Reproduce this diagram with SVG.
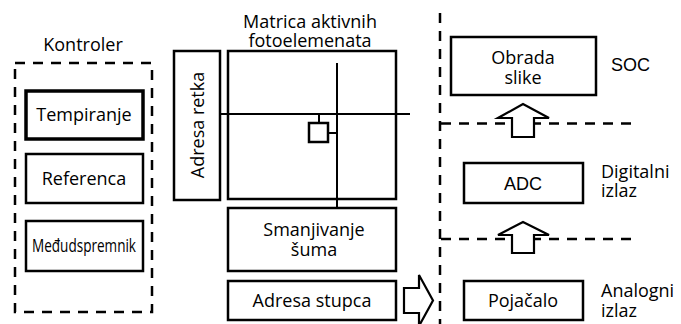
<svg xmlns="http://www.w3.org/2000/svg" width="681" height="324" viewBox="0 0 681 324">
<style>
text{font-family:"Open Sans","Noto Sans","DejaVu Sans",sans-serif;font-size:18px;fill:#000;text-anchor:middle}
.box{fill:#fff;stroke:#000;stroke-width:2.5}
.thick{stroke-width:3.5}
.dash{fill:none;stroke:#000;stroke-width:2.5;stroke-dasharray:10 8}
.line{fill:none;stroke:#000;stroke-width:2}
.arrow{fill:#fff;stroke:#000;stroke-width:2.2;stroke-linejoin:miter}
.lab{text-anchor:start}
.arial{font-family:"Liberation Sans",Arial,sans-serif}
</style>
<rect width="681" height="324" fill="#fff"/>
<g id="kontroler">
<rect class="dash" x="15" y="63" width="137" height="249"/>
<text x="83" y="51">Kontroler</text>
</g>
<g id="tempiranje">
<rect class="box thick" x="26" y="91" width="117" height="48"/>
<text x="84" y="121">Tempiranje</text>
</g>
<g id="referenca">
<rect class="box" x="26" y="154" width="117" height="49"/>
<text x="84" y="185">Referenca</text>
</g>
<g id="medjuspremnik">
<rect class="box" x="26" y="221" width="117" height="50"/>
<text x="84" y="252" font-size="16" textLength="104" lengthAdjust="spacingAndGlyphs">Međudspremnik</text>
</g>
<g id="adresa-retka">
<rect class="box" x="174" y="51" width="46" height="149"/>
<text transform="translate(204,125) rotate(-90)">Adresa retka</text>
</g>
<g id="matrica">
<rect class="box" x="228" y="51" width="168" height="148"/>
<text x="310" y="28">Matrica aktivnih</text>
<text x="310" y="47">fotoelemenata</text>
</g>
<g id="smanjivanje">
<rect class="box" x="228" y="208" width="168" height="63"/>
<text x="314" y="236">Smanjivanje</text>
<text x="314" y="256">šuma</text>
</g>
<g id="adresa-stupca">
<rect class="box" x="228" y="281" width="168" height="39"/>
<text x="312" y="307">Adresa stupca</text>
</g>
<g id="obrada">
<rect class="box" x="451" y="37" width="145" height="58"/>
<text x="523" y="64">Obrada</text>
<text x="523" y="84">slike</text>
<text class="lab arial" x="611" y="71">SOC</text>
</g>
<g id="adc">
<rect class="box" x="464" y="163" width="119" height="40"/>
<text class="arial" x="523" y="190">ADC</text>
<text class="lab" x="601" y="178">Digitalni</text>
<text class="lab" x="601" y="197">izlaz</text>
</g>
<g id="pojacalo">
<rect class="box" x="464" y="281" width="119" height="39"/>
<text x="523" y="307">Pojačalo</text>
<text class="lab" x="601" y="297">Analogni</text>
<text class="lab" x="601" y="317">izlaz</text>
</g>
<g id="connectors">
<line class="dash" x1="440" y1="13" x2="440" y2="324"/>
<line class="dash" x1="441" y1="123.5" x2="637" y2="123.5"/>
<line class="dash" x1="441" y1="239" x2="637" y2="239"/>
<line class="line" x1="220" y1="114" x2="410" y2="114"/>
<line class="line" x1="337" y1="63" x2="337" y2="208"/>
<rect class="box" x="309" y="123" width="19" height="19"/>
<line class="line" x1="319" y1="114" x2="319" y2="123"/>
<line class="line" x1="328" y1="133" x2="337" y2="133"/>
<polygon class="arrow" points="404,288 419,288 419,275 433,300.5 419,326 419,313 404,313"/>
<polygon class="arrow" points="512,137 512,118 498,118 523,104 549,118 534,118 534,137"/>
<polygon class="arrow" points="512,253 512,235 498,235 523,222 549,235 534,235 534,253"/>
</g>
</svg>
